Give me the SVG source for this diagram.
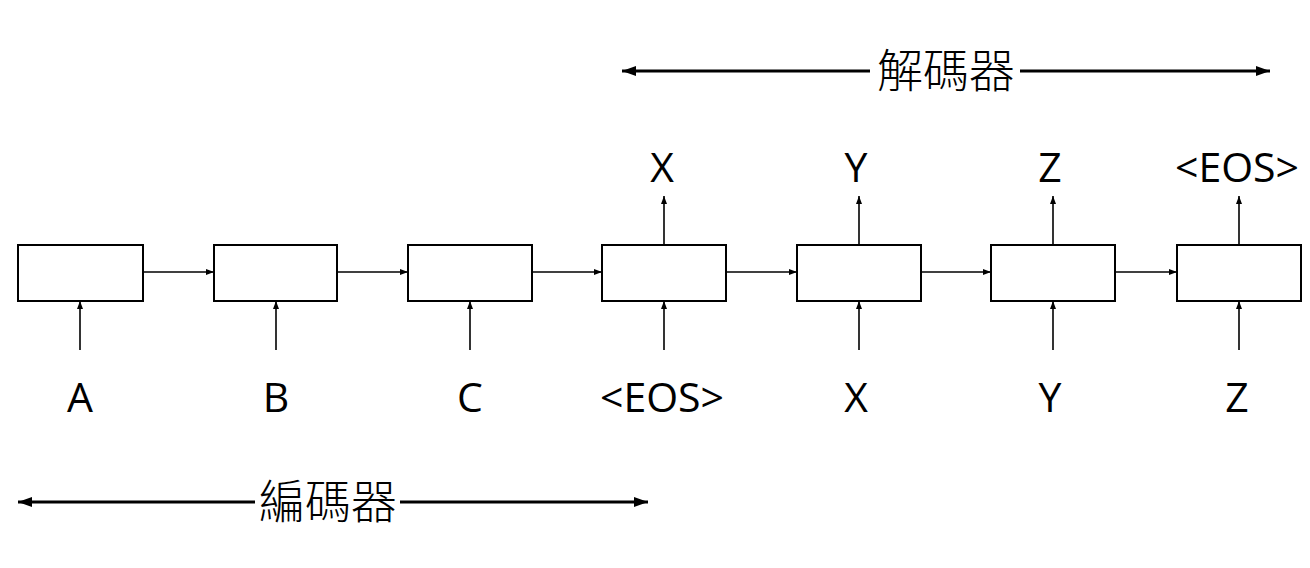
<svg xmlns="http://www.w3.org/2000/svg" width="1310" height="568" viewBox="0 0 1310 568">
<defs>
<marker id="ah" markerUnits="userSpaceOnUse" markerWidth="8" markerHeight="8" viewBox="0 0 8 8" refX="8" refY="4" orient="auto">
<path d="M0,1 L8,4 L0,7 Z" fill="#000"/>
</marker>
<marker id="ahb" markerUnits="userSpaceOnUse" markerWidth="14" markerHeight="12" viewBox="0 0 14 12" refX="14" refY="6" orient="auto-start-reverse">
<path d="M0,1 L14,6 L0,11 Z" fill="#000"/>
</marker>
<style>
.box{fill:#fff;stroke:#000;stroke-width:2}
.c{stroke:#000;stroke-width:1.6;fill:none;marker-end:url(#ah)}
.t{stroke:#000;stroke-width:3;fill:none}
.lbl{font-family:"Open Sans","Liberation Sans",sans-serif;font-size:41px;fill:#000;text-anchor:middle}
.cjk{font-family:"Noto Sans CJK TC","Noto Sans CJK SC",sans-serif;font-size:46px;fill:#000;text-anchor:middle;font-weight:300}
</style>
</defs>
<rect width="1310" height="568" fill="#fff"/>
<g id="connectors">
<line class="c" x1="143" y1="272" x2="214" y2="272"/>
<line class="c" x1="337" y1="272" x2="408" y2="272"/>
<line class="c" x1="532" y1="272" x2="602" y2="272"/>
<line class="c" x1="726" y1="272" x2="797" y2="272"/>
<line class="c" x1="921" y1="272" x2="991" y2="272"/>
<line class="c" x1="1115" y1="272" x2="1177" y2="272"/>
<line class="c" x1="80" y1="350" x2="80" y2="301"/>
<line class="c" x1="276" y1="350" x2="276" y2="301"/>
<line class="c" x1="470" y1="350" x2="470" y2="301"/>
<line class="c" x1="664" y1="350" x2="664" y2="301"/>
<line class="c" x1="859" y1="350" x2="859" y2="301"/>
<line class="c" x1="1053" y1="350" x2="1053" y2="301"/>
<line class="c" x1="1239" y1="350" x2="1239" y2="301"/>
<line class="c" x1="664" y1="245" x2="664" y2="196"/>
<line class="c" x1="859" y1="245" x2="859" y2="196"/>
<line class="c" x1="1053" y1="245" x2="1053" y2="196"/>
<line class="c" x1="1239" y1="245" x2="1239" y2="196"/>
</g>
<g id="n1"><rect class="box" x="18" y="245" width="125" height="56"/><text class="lbl" x="80" y="412">A</text></g>
<g id="n2"><rect class="box" x="214" y="245" width="123" height="56"/><text class="lbl" x="276" y="412">B</text></g>
<g id="n3"><rect class="box" x="408" y="245" width="124" height="56"/><text class="lbl" x="470" y="412">C</text></g>
<g id="n4"><rect class="box" x="602" y="245" width="124" height="56"/><text class="lbl" x="662" y="412">&lt;EOS&gt;</text><text class="lbl" x="662" y="182">X</text></g>
<g id="n5"><rect class="box" x="797" y="245" width="124" height="56"/><text class="lbl" x="856" y="412">X</text><text class="lbl" x="856" y="182">Y</text></g>
<g id="n6"><rect class="box" x="991" y="245" width="124" height="56"/><text class="lbl" x="1050" y="412">Y</text><text class="lbl" x="1050" y="182">Z</text></g>
<g id="n7"><rect class="box" x="1177" y="245" width="124" height="56"/><text class="lbl" x="1237" y="412">Z</text><text class="lbl" x="1237" y="182">&lt;EOS&gt;</text></g>
<g id="decoder">
<line class="t" x1="870" y1="71" x2="622" y2="71" marker-end="url(#ahb)"/>
<line class="t" x1="1020" y1="71" x2="1270" y2="71" marker-end="url(#ahb)"/>
<text class="cjk" x="946" y="87">解碼器</text>
</g>
<g id="encoder">
<line class="t" x1="255" y1="502" x2="18" y2="502" marker-end="url(#ahb)"/>
<line class="t" x1="400" y1="502" x2="648" y2="502" marker-end="url(#ahb)"/>
<text class="cjk" x="328" y="518">編碼器</text>
</g>
</svg>
